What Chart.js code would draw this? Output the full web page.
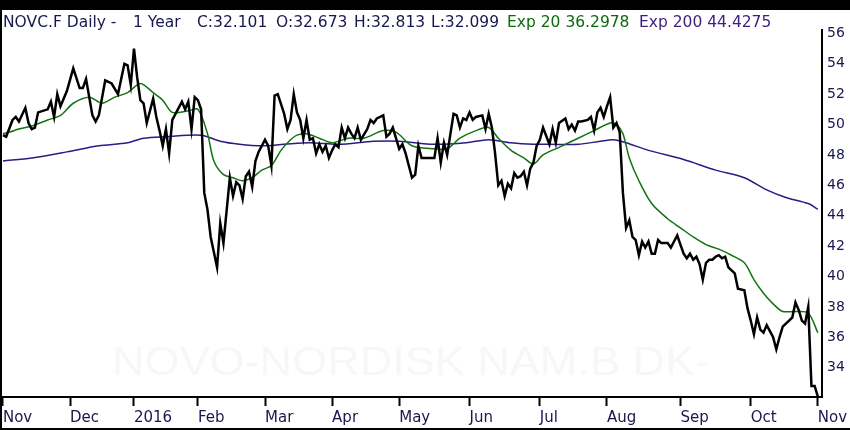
<!DOCTYPE html>
<html>
<head>
<meta charset="utf-8">
<script src="https://cdn.jsdelivr.net/npm/chart.js@4.4.0/dist/chart.umd.min.js"></script>
<style>
  body { margin: 0; background: #fff; }
  canvas { display: block; }
</style>
</head>
<body>
<canvas id="stockChart" width="850" height="430"></canvas>
<script>
// trading-day index of each month start, Nov 2015 .. Nov 2016
const monthStarts = [0, 21, 41, 61, 82, 103, 124, 146, 168, 189, 212, 234, 255];
const monthLabels = ['Nov', 'Dec', '2016', 'Feb', 'Mar', 'Apr', 'May', 'Jun', 'Jul', 'Aug', 'Sep', 'Oct', 'Nov'];
const priceTicks = [34, 36, 38, 40, 42, 44, 46, 48, 50, 52, 54, 56];

// daily close (trading-day index, value)
const closeDays = [0, 1, 3, 4, 5, 7, 8, 9, 10, 11, 14, 15, 16, 17, 18, 20, 22, 24, 25, 26, 28, 29, 30, 32, 34, 36, 38, 39, 40, 41,
  42, 43, 44, 45, 47, 48, 49, 50, 51, 52, 53, 56, 57, 58, 59, 60, 61, 62, 63, 64, 65, 67, 68, 69, 71, 72, 73, 74, 75, 76,
  77, 78, 79, 80, 82, 83, 84, 85, 86, 88, 89, 90, 91, 92, 93, 94, 95, 96, 97, 98, 99, 100, 101, 102, 103, 104, 105, 106, 107, 108,
  109, 110, 111, 112, 114, 115, 116, 117, 119, 120, 121, 122, 124, 125, 126, 128, 129, 130, 131, 133, 135, 136, 137, 138, 139, 141, 142, 143, 144, 145,
  146, 147, 148, 150, 151, 152, 153, 154, 155, 156, 157, 158, 159, 160, 161, 162, 163, 164, 165, 166, 167, 168, 169, 171, 172, 173, 174, 176, 177, 178,
  179, 180, 181, 183, 184, 185, 186, 187, 188, 189, 190, 191, 192, 193, 194, 195, 196, 197, 198, 199, 200, 201, 202, 203, 204, 205, 206, 208, 209, 210,
  211, 212, 213, 214, 215, 216, 217, 218, 219, 220, 221, 222, 223, 224, 225, 226, 227, 228, 229, 230, 232, 233, 234, 235, 236, 237, 238, 239, 240, 241,
  242, 243, 244, 246, 247, 248, 249, 250, 251, 252, 253, 254, 255];
const closeValues = [49.3, 49.2, 50.3, 50.5, 50.2, 51.1, 50.1, 49.7, 49.8, 50.8, 51.0, 51.5, 50.5, 52.0, 51.2, 52.2, 53.7, 52.4, 52.4, 53.0, 50.6, 50.2, 50.6, 52.9, 52.7, 52.0, 54.0, 53.9, 52.6, 55.0,
  53.1, 51.6, 51.4, 50.1, 51.7, 50.5, 49.6, 48.6, 49.7, 48.1, 50.3, 51.5, 51.0, 51.5, 49.7, 51.8, 51.6, 51.0, 45.5, 44.4, 42.6, 40.6, 43.5, 42.2, 46.5, 45.3, 46.2, 46.0, 45.1, 46.6,
  46.9, 45.9, 47.6, 48.2, 49.0, 48.6, 47.3, 51.9, 52.0, 50.7, 49.7, 50.3, 52.0, 50.8, 50.3, 49.1, 50.3, 49.0, 49.1, 48.1, 48.7, 48.2, 48.6, 47.8, 48.3, 48.7, 48.5, 49.8, 49.1, 49.8,
  49.4, 49.1, 49.8, 49.0, 49.7, 50.3, 50.1, 50.4, 50.6, 49.2, 49.4, 49.8, 48.4, 48.7, 48.1, 46.5, 46.7, 48.6, 47.8, 47.8, 47.8, 49.1, 47.5, 48.8, 48.0, 50.7, 50.6, 49.8, 50.4, 50.3,
  50.8, 50.3, 50.5, 50.6, 49.7, 50.7, 49.8, 48.1, 46.0, 46.3, 45.3, 46.1, 45.8, 46.8, 46.5, 46.6, 46.9, 46.0, 47.1, 47.5, 48.6, 49.0, 49.8, 48.7, 49.7, 48.8, 50.1, 50.4, 49.7, 50.0,
  49.6, 50.2, 50.2, 50.3, 50.5, 49.6, 50.8, 51.1, 50.5, 51.2, 51.8, 49.8, 50.1, 49.5, 45.5, 43.2, 43.7, 42.6, 42.4, 41.4, 42.3, 41.9, 42.3, 41.5, 41.5, 42.4, 42.2, 42.2, 41.9, 42.3,
  42.7, 42.1, 41.5, 41.2, 41.5, 41.1, 41.3, 40.8, 39.8, 40.9, 41.1, 41.1, 41.3, 41.4, 41.2, 41.3, 40.6, 40.4, 40.2, 39.2, 39.1, 37.9, 37.1, 36.2, 37.3, 36.5, 36.3, 36.8, 36.4, 36.0,
  35.2, 36.0, 36.7, 37.1, 37.3, 38.3, 37.8, 37.1, 36.9, 38.0, 32.8, 32.8, 32.101];

// exponential averages
const ema20Days = [0, 2, 5, 9, 14, 18, 22, 27, 31, 35, 39, 43, 47, 50, 53, 58, 61, 64, 66, 69, 72, 75, 78, 81, 84, 87, 90, 92, 95, 99,
  103, 108, 113, 119, 123, 128, 135, 139, 143, 148, 152, 155, 159, 163, 166, 169, 174, 180, 185, 190, 192, 194, 196, 199, 203, 208, 212, 216, 220, 224,
  228, 232, 235, 238, 241, 244, 248, 252, 255];
const ema20Values = [49.4, 49.5, 49.7, 49.9, 50.3, 50.6, 51.4, 51.8, 51.4, 51.8, 52.1, 52.7, 52.1, 51.6, 50.8, 50.9, 51.0, 49.4, 47.6, 46.7, 46.5, 46.3, 46.5, 47.0, 47.3, 48.3, 49.0, 49.3, 49.4, 49.1,
  48.8, 49.1, 49.1, 49.6, 49.5, 48.6, 48.4, 48.4, 49.1, 49.6, 49.8, 49.1, 48.3, 47.8, 47.4, 48.0, 48.5, 49.1, 49.6, 50.1, 50.0, 49.4, 47.8, 46.3, 44.8, 43.8, 43.2, 42.6, 42.1, 41.8,
  41.4, 40.9, 39.8, 38.9, 38.2, 37.7, 37.7, 37.6, 36.2978];
const ema200Days = [0, 9, 20, 30, 39, 44, 51, 62, 68, 74, 81, 88, 96, 105, 116, 124, 135, 145, 152, 159, 166, 171, 180, 187, 191, 195, 202, 213, 223, 232,
  239, 245, 252, 255];
const ema200Values = [47.6, 47.8, 48.2, 48.6, 48.8, 49.1, 49.2, 49.3, 48.9, 48.7, 48.6, 48.7, 48.8, 48.7, 48.9, 48.9, 48.7, 48.8, 49.0, 48.8, 48.7, 48.7, 48.7, 48.9, 49.0, 48.8, 48.3, 47.7, 47.0, 46.5,
  45.7, 45.2, 44.8, 44.4275];

function toPoints(days, values) {
  return days.map((d, i) => ({ x: d, y: values[i] }));
}

const navy = '#18184e';

const framePlugin = {
  id: 'frame',
  beforeDraw(chart) {
    const ctx = chart.ctx;
    ctx.save();
    ctx.fillStyle = '#fff';
    ctx.fillRect(0, 0, chart.width, chart.height);
    ctx.fillStyle = '#000';
    ctx.fillRect(0, 0, chart.width, 10);
    ctx.fillRect(0, 0, 2, chart.height);
    ctx.fillRect(0, 428, chart.width, 2);
    ctx.restore();
  },
  beforeDatasetsDraw(chart) {
    // faint watermark behind the lines
    const ctx = chart.ctx;
    const text = 'NOVO-NORDISK NAM.B DK-';
    ctx.save();
    ctx.font = '41px "Liberation Sans"';
    const w = ctx.measureText(text).width;
    ctx.translate(112, 375);
    ctx.scale(598 / w, 1);
    ctx.fillStyle = '#f7f7f7';
    ctx.textBaseline = 'alphabetic';
    ctx.fillText(text, 0, 0);
    ctx.restore();
  },
  afterDraw(chart) {
    const ctx = chart.ctx;
    const parts = [
      ['NOVC.F Daily -', navy, 3],
      ['1 Year', navy, 133],
      ['C:32.101', navy, 197],
      ['O:32.673', navy, 276],
      ['H:32.813', navy, 354],
      ['L:32.099', navy, 431],
      ['Exp 20 36.2978', '#0b6b0b', 507],
      ['Exp 200 44.4275', '#3b1f7e', 639]
    ];
    ctx.save();
    ctx.font = '15.5px "DejaVu Sans"';
    ctx.textBaseline = 'alphabetic';
    parts.forEach(p => {
      ctx.fillStyle = p[1];
      ctx.fillText(p[0], p[2], 27);
    });
    ctx.restore();
  }
};

const ctx = document.getElementById('stockChart').getContext('2d');
const chart = new Chart(ctx, {
  type: 'line',
  data: {
    datasets: [
      {
        label: 'Close',
        data: toPoints(closeDays, closeValues),
        borderColor: '#000',
        borderWidth: 2.5,
        pointRadius: 0,
        tension: 0
      },
      {
        label: 'Exp 20',
        data: toPoints(ema20Days, ema20Values),
        borderColor: '#137313',
        borderWidth: 1.5,
        pointRadius: 0,
        tension: 0.3
      },
      {
        label: 'Exp 200',
        data: toPoints(ema200Days, ema200Values),
        borderColor: '#2c1a86',
        borderWidth: 1.5,
        pointRadius: 0,
        tension: 0.3
      }
    ]
  },
  options: {
    responsive: false,
    animation: false,
    devicePixelRatio: 1,
    layout: { padding: { top: 30, left: 2, right: 0, bottom: 0 } },
    plugins: {
      legend: { display: false },
      tooltip: { enabled: false }
    },
    scales: {
      x: {
        type: 'linear',
        min: -0.3,
        max: 256.3,
        afterBuildTicks: scale => {
          scale.ticks = monthStarts.map(v => ({ value: v }));
        },
        afterFit: scale => {
          scale.height = 33;
          scale.paddingLeft = 0;
          scale.paddingRight = 0;
        },
        grid: {
          display: true,
          drawOnChartArea: false,
          drawTicks: true,
          tickLength: 9,
          tickWidth: 2,
          color: '#000'
        },
        border: { display: true, color: '#000', width: 2 },
        ticks: {
          align: 'start',
          maxRotation: 0,
          autoSkip: false,
          padding: 3,
          color: navy,
          font: { family: 'DejaVu Sans', size: 15 },
          callback: value => monthLabels[monthStarts.indexOf(value)]
        }
      },
      y: {
        position: 'right',
        min: 32.07,
        max: 56.22,
        afterBuildTicks: scale => {
          scale.ticks = priceTicks.map(v => ({ value: v }));
        },
        afterFit: scale => {
          scale.width = 28;
          scale.paddingTop = 0;
          scale.paddingBottom = 0;
        },
        grid: { display: false, drawTicks: false },
        border: { display: true, color: '#000', width: 2 },
        ticks: {
          padding: 5,
          color: navy,
          font: { family: 'DejaVu Sans', size: 14 }
        }
      }
    }
  },
  plugins: [framePlugin]
});
</script>
</body>
</html>
